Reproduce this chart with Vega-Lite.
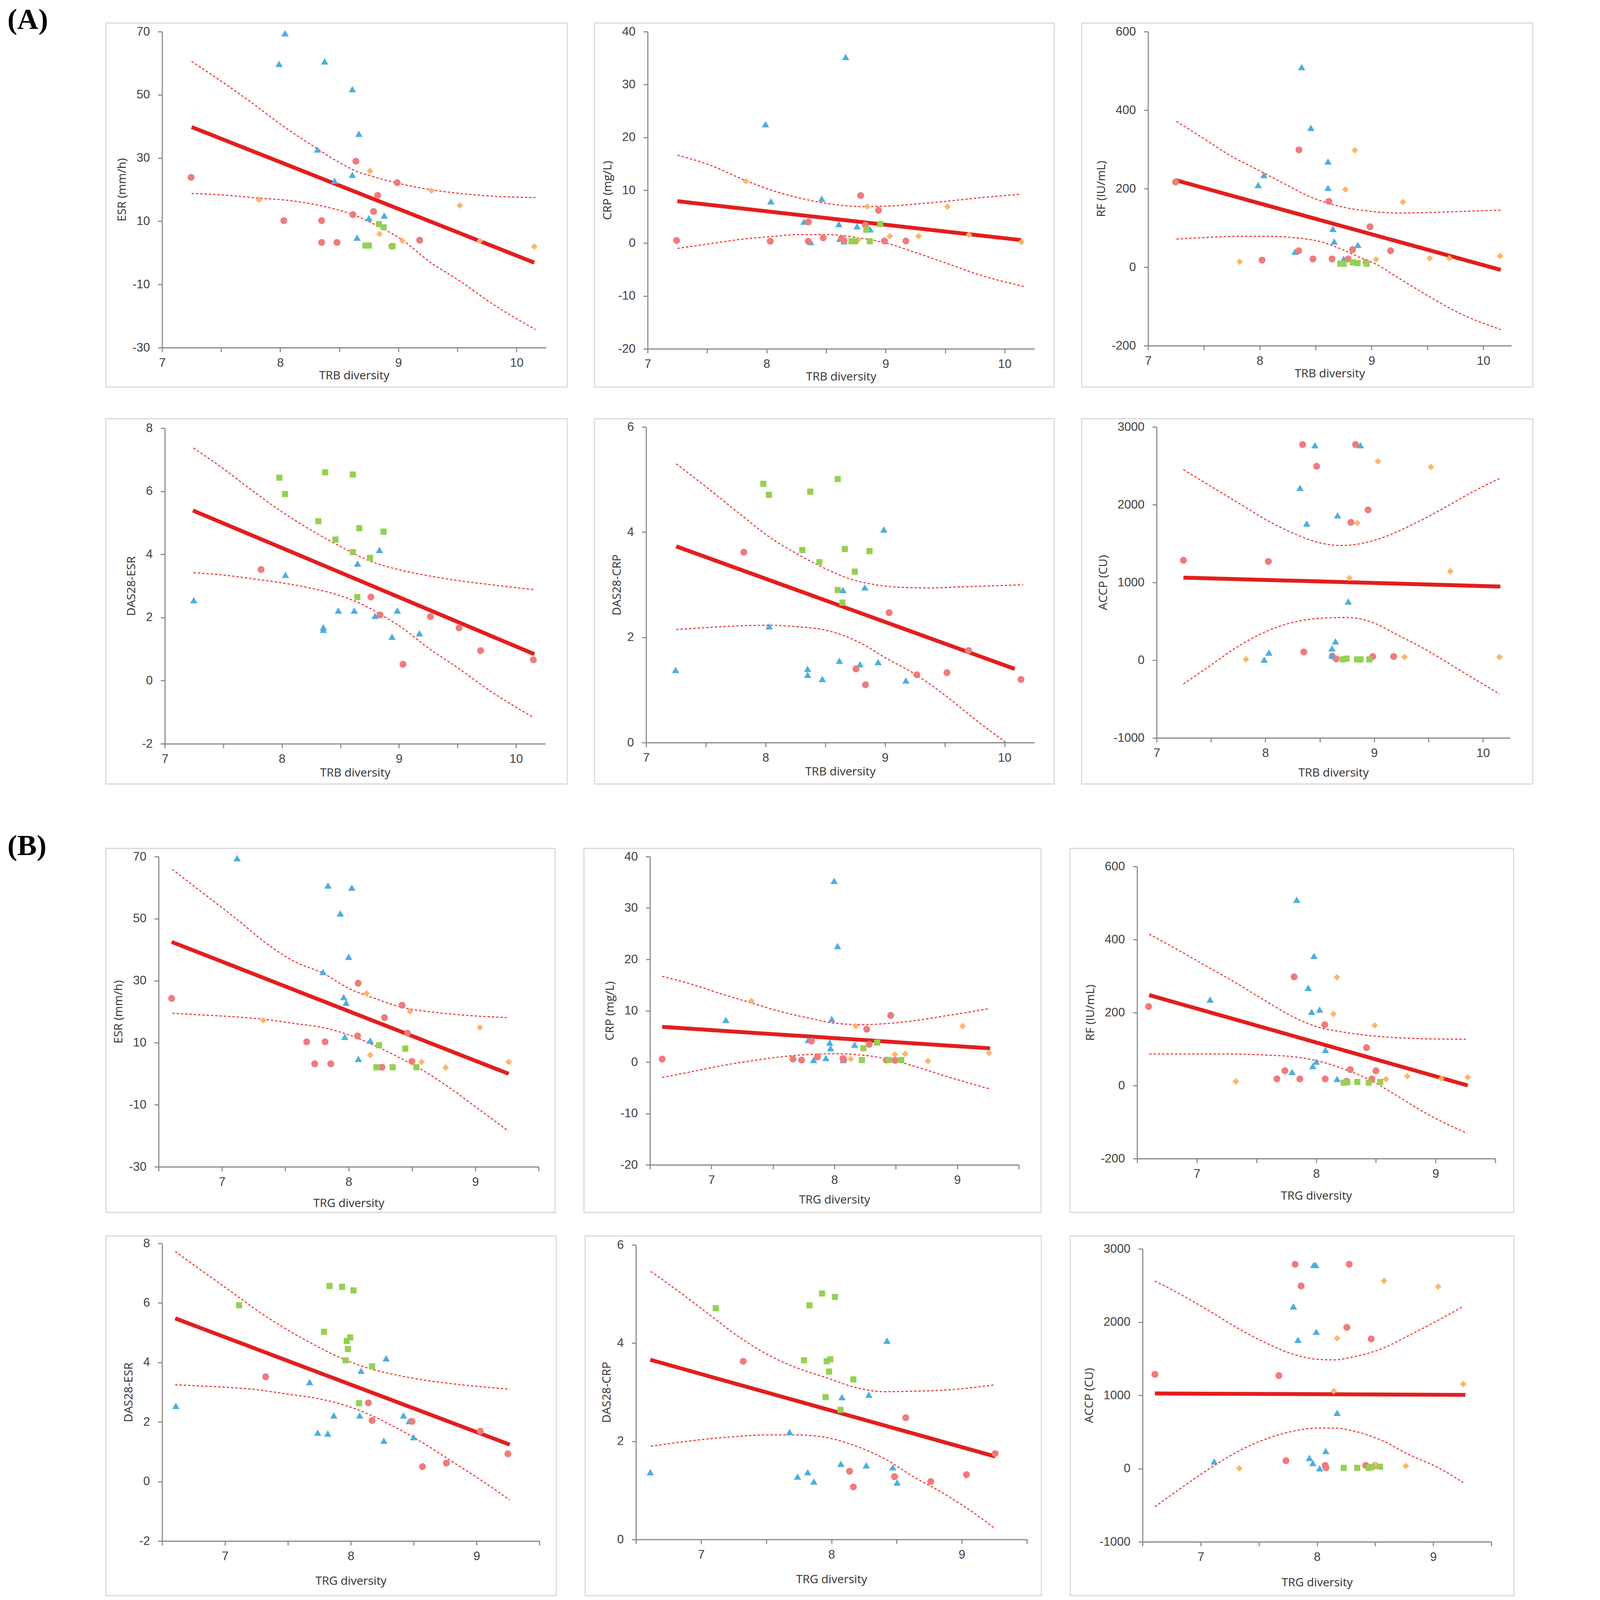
{
"$schema": "https://vega.github.io/schema/vega-lite/v6.json",
"background": "white",
"padding": {"left": 19, "top": 13, "right": 0, "bottom": 0},
"config": {
 "font": "Liberation Sans",
 "view": {"stroke": "#D9D9D9", "strokeWidth": 2.8},
 "axis": {"grid": false, "domainColor": "#898989", "domainWidth": 2.8, "tickColor": "#898989", "tickWidth": 2.8, "tickSize": 11, "labelFont": "Liberation Sans", "labelFontSize": 31, "labelColor": "#404040", "labelPadding": 20.5, "labelOverlap": false, "labelFlush": false, "titleFont": "Open Sans", "titleFontSize": 30, "titleFontWeight": "normal", "titleColor": "#303030", "titlePadding": 11},
 "axisX": {"labelPadding": 13},
 "title": {"font": "Liberation Serif", "fontSize": 75, "fontWeight": "bold", "color": "#000000", "anchor": "start", "frame": "group"}
},
"datasets": {
"pts": [
{"p":"A1","g":"T","x":8.04,"y":69.5},{"p":"A1","g":"T","x":7.99,"y":59.8},{"p":"A1","g":"T","x":8.375,"y":60.6},{"p":"A1","g":"T","x":8.61,"y":51.8},{"p":"A1","g":"T","x":8.665,"y":37.7},{"p":"A1","g":"T","x":8.315,"y":32.7},{"p":"A1","g":"T","x":8.61,"y":24.7},{"p":"A1","g":"T","x":8.46,"y":22.8},{"p":"A1","g":"T","x":8.75,"y":11.0},{"p":"A1","g":"T","x":8.88,"y":11.8},{"p":"A1","g":"T","x":8.65,"y":4.8},
{"p":"A1","g":"C","x":7.245,"y":23.9},{"p":"A1","g":"C","x":8.64,"y":29.0},{"p":"A1","g":"C","x":8.99,"y":22.2},{"p":"A1","g":"C","x":8.825,"y":18.2},{"p":"A1","g":"C","x":8.79,"y":13.1},{"p":"A1","g":"C","x":8.615,"y":12.1},{"p":"A1","g":"C","x":8.03,"y":10.2},{"p":"A1","g":"C","x":8.35,"y":10.2},{"p":"A1","g":"C","x":8.35,"y":3.3},{"p":"A1","g":"C","x":8.48,"y":3.3},{"p":"A1","g":"C","x":9.18,"y":4.0},{"p":"A1","g":"C","x":8.945,"y":2.1},
{"p":"A1","g":"D","x":8.76,"y":25.9},{"p":"A1","g":"D","x":9.28,"y":19.7},{"p":"A1","g":"D","x":7.82,"y":16.8},{"p":"A1","g":"D","x":9.52,"y":15.0},{"p":"A1","g":"D","x":8.84,"y":6.0},{"p":"A1","g":"D","x":9.035,"y":3.8},{"p":"A1","g":"D","x":9.69,"y":3.8},{"p":"A1","g":"D","x":10.15,"y":2.0},
{"p":"A1","g":"S","x":8.835,"y":9.1},{"p":"A1","g":"S","x":8.875,"y":8.1},{"p":"A1","g":"S","x":8.72,"y":2.3},{"p":"A1","g":"S","x":8.75,"y":2.3},{"p":"A1","g":"S","x":8.95,"y":2.1},

{"p":"A2","g":"T","x":8.664,"y":35.2},{"p":"A2","g":"T","x":7.99,"y":22.5},{"p":"A2","g":"T","x":8.036,"y":7.9},{"p":"A2","g":"T","x":8.463,"y":8.4},{"p":"A2","g":"T","x":8.314,"y":4.05},{"p":"A2","g":"T","x":8.607,"y":3.6},{"p":"A2","g":"T","x":8.76,"y":3.2},{"p":"A2","g":"T","x":8.87,"y":2.6},{"p":"A2","g":"T","x":8.37,"y":0.2},{"p":"A2","g":"T","x":8.614,"y":0.8},{"p":"A2","g":"T","x":8.65,"y":0.35},
{"p":"A2","g":"C","x":7.243,"y":0.5},{"p":"A2","g":"C","x":8.03,"y":0.35},{"p":"A2","g":"C","x":8.35,"y":0.35},{"p":"A2","g":"C","x":8.35,"y":4.0},{"p":"A2","g":"C","x":8.475,"y":1.0},{"p":"A2","g":"C","x":8.79,"y":9.0},{"p":"A2","g":"C","x":8.94,"y":6.2},{"p":"A2","g":"C","x":8.83,"y":3.4},{"p":"A2","g":"C","x":8.63,"y":0.9},{"p":"A2","g":"C","x":8.65,"y":0.5},{"p":"A2","g":"C","x":8.99,"y":0.4},{"p":"A2","g":"C","x":9.17,"y":0.4},
{"p":"A2","g":"D","x":7.826,"y":11.7},{"p":"A2","g":"D","x":8.845,"y":6.9},{"p":"A2","g":"D","x":9.52,"y":6.9},{"p":"A2","g":"D","x":9.035,"y":1.3},{"p":"A2","g":"D","x":9.276,"y":1.3},{"p":"A2","g":"D","x":9.7,"y":1.55},{"p":"A2","g":"D","x":10.14,"y":0.2},{"p":"A2","g":"D","x":8.77,"y":0.65},
{"p":"A2","g":"S","x":8.954,"y":3.6},{"p":"A2","g":"S","x":8.837,"y":2.55},{"p":"A2","g":"S","x":8.713,"y":0.35},{"p":"A2","g":"S","x":8.745,"y":0.35},{"p":"A2","g":"S","x":8.867,"y":0.35},

{"p":"A3","g":"T","x":8.374,"y":509.7},{"p":"A3","g":"T","x":8.457,"y":354.8},{"p":"A3","g":"T","x":8.61,"y":269.2},{"p":"A3","g":"T","x":8.037,"y":234.8},{"p":"A3","g":"T","x":7.985,"y":209.3},{"p":"A3","g":"T","x":8.61,"y":202.1},{"p":"A3","g":"T","x":8.654,"y":97.6},{"p":"A3","g":"T","x":8.665,"y":65.6},{"p":"A3","g":"T","x":8.877,"y":56.7},{"p":"A3","g":"T","x":8.315,"y":39.4},{"p":"A3","g":"T","x":8.75,"y":21.0},
{"p":"A3","g":"C","x":7.246,"y":217},{"p":"A3","g":"C","x":8.35,"y":299},{"p":"A3","g":"C","x":8.618,"y":167.7},{"p":"A3","g":"C","x":8.986,"y":103},{"p":"A3","g":"C","x":8.83,"y":44.8},{"p":"A3","g":"C","x":8.348,"y":41.8},{"p":"A3","g":"C","x":9.17,"y":41.8},{"p":"A3","g":"C","x":8.02,"y":18.1},{"p":"A3","g":"C","x":8.475,"y":21.0},{"p":"A3","g":"C","x":8.646,"y":21.0},{"p":"A3","g":"C","x":8.79,"y":21.0},{"p":"A3","g":"C","x":8.95,"y":12.1},
{"p":"A3","g":"D","x":8.85,"y":297.7},{"p":"A3","g":"D","x":8.766,"y":198},{"p":"A3","g":"D","x":9.28,"y":166},{"p":"A3","g":"D","x":7.82,"y":13.9},{"p":"A3","g":"D","x":9.04,"y":19.8},{"p":"A3","g":"D","x":9.52,"y":22.8},{"p":"A3","g":"D","x":9.696,"y":22.8},{"p":"A3","g":"D","x":10.15,"y":28.7},
{"p":"A3","g":"S","x":8.72,"y":9},{"p":"A3","g":"S","x":8.75,"y":9},{"p":"A3","g":"S","x":8.833,"y":12.1},{"p":"A3","g":"S","x":8.875,"y":10.3},{"p":"A3","g":"S","x":8.955,"y":9},

{"p":"A4","g":"S","x":7.978,"y":6.43},{"p":"A4","g":"S","x":8.369,"y":6.6},{"p":"A4","g":"S","x":8.606,"y":6.53},{"p":"A4","g":"S","x":8.026,"y":5.91},{"p":"A4","g":"S","x":8.311,"y":5.05},{"p":"A4","g":"S","x":8.661,"y":4.83},{"p":"A4","g":"S","x":8.868,"y":4.72},{"p":"A4","g":"S","x":8.457,"y":4.47},{"p":"A4","g":"S","x":8.606,"y":4.07},{"p":"A4","g":"S","x":8.752,"y":3.89},{"p":"A4","g":"S","x":8.644,"y":2.65},
{"p":"A4","g":"T","x":8.833,"y":4.14},{"p":"A4","g":"T","x":8.646,"y":3.71},{"p":"A4","g":"T","x":8.03,"y":3.35},{"p":"A4","g":"T","x":7.247,"y":2.55},{"p":"A4","g":"T","x":8.482,"y":2.22},{"p":"A4","g":"T","x":8.618,"y":2.22},{"p":"A4","g":"T","x":8.986,"y":2.22},{"p":"A4","g":"T","x":8.795,"y":2.05},{"p":"A4","g":"T","x":8.354,"y":1.69},{"p":"A4","g":"T","x":8.354,"y":1.61},{"p":"A4","g":"T","x":8.941,"y":1.39},{"p":"A4","g":"T","x":9.175,"y":1.5},
{"p":"A4","g":"C","x":7.822,"y":3.52},{"p":"A4","g":"C","x":8.76,"y":2.65},{"p":"A4","g":"C","x":8.838,"y":2.08},{"p":"A4","g":"C","x":9.269,"y":2.03},{"p":"A4","g":"C","x":9.513,"y":1.67},{"p":"A4","g":"C","x":9.697,"y":0.95},{"p":"A4","g":"C","x":9.034,"y":0.52},{"p":"A4","g":"C","x":10.148,"y":0.66},

{"p":"A5","g":"S","x":7.981,"y":4.92},{"p":"A5","g":"S","x":8.028,"y":4.71},{"p":"A5","g":"S","x":8.374,"y":4.77},{"p":"A5","g":"S","x":8.604,"y":5.01},{"p":"A5","g":"S","x":8.307,"y":3.66},{"p":"A5","g":"S","x":8.663,"y":3.68},{"p":"A5","g":"S","x":8.87,"y":3.64},{"p":"A5","g":"S","x":8.45,"y":3.43},{"p":"A5","g":"S","x":8.747,"y":3.25},{"p":"A5","g":"S","x":8.604,"y":2.9},{"p":"A5","g":"S","x":8.643,"y":2.66},
{"p":"A5","g":"T","x":8.99,"y":4.05},{"p":"A5","g":"T","x":8.648,"y":2.9},{"p":"A5","g":"T","x":8.831,"y":2.95},{"p":"A5","g":"T","x":8.03,"y":2.21},{"p":"A5","g":"T","x":7.247,"y":1.38},{"p":"A5","g":"T","x":8.352,"y":1.4},{"p":"A5","g":"T","x":8.352,"y":1.29},{"p":"A5","g":"T","x":8.475,"y":1.21},{"p":"A5","g":"T","x":8.618,"y":1.555},{"p":"A5","g":"T","x":8.79,"y":1.49},{"p":"A5","g":"T","x":8.942,"y":1.53},{"p":"A5","g":"T","x":9.175,"y":1.18},
{"p":"A5","g":"C","x":7.818,"y":3.62},{"p":"A5","g":"C","x":9.034,"y":2.47},{"p":"A5","g":"C","x":9.698,"y":1.75},{"p":"A5","g":"C","x":8.757,"y":1.4},{"p":"A5","g":"C","x":8.836,"y":1.1},{"p":"A5","g":"C","x":9.266,"y":1.29},{"p":"A5","g":"C","x":9.518,"y":1.33},{"p":"A5","g":"C","x":10.138,"y":1.2},

{"p":"A6","g":"C","x":8.342,"y":2774},{"p":"A6","g":"C","x":8.829,"y":2774},{"p":"A6","g":"C","x":8.471,"y":2494},{"p":"A6","g":"C","x":8.944,"y":1933},{"p":"A6","g":"C","x":8.786,"y":1773},{"p":"A6","g":"C","x":7.246,"y":1285},{"p":"A6","g":"C","x":8.027,"y":1270},{"p":"A6","g":"C","x":8.353,"y":106},{"p":"A6","g":"C","x":8.987,"y":46},{"p":"A6","g":"C","x":9.179,"y":46},{"p":"A6","g":"C","x":8.615,"y":52},{"p":"A6","g":"C","x":8.65,"y":16},
{"p":"A6","g":"T","x":8.455,"y":2765},{"p":"A6","g":"T","x":8.874,"y":2765},{"p":"A6","g":"T","x":8.318,"y":2216},{"p":"A6","g":"T","x":8.663,"y":1864},{"p":"A6","g":"T","x":8.38,"y":1758},{"p":"A6","g":"T","x":8.762,"y":754},{"p":"A6","g":"T","x":8.644,"y":242},{"p":"A6","g":"T","x":8.612,"y":151},{"p":"A6","g":"T","x":8.032,"y":97},{"p":"A6","g":"T","x":7.989,"y":7},{"p":"A6","g":"T","x":8.612,"y":61},
{"p":"A6","g":"D","x":9.035,"y":2557},{"p":"A6","g":"D","x":9.521,"y":2485},{"p":"A6","g":"D","x":8.845,"y":1764},{"p":"A6","g":"D","x":9.7,"y":1143},{"p":"A6","g":"D","x":8.773,"y":1056},{"p":"A6","g":"D","x":7.821,"y":10},{"p":"A6","g":"D","x":9.278,"y":40},{"p":"A6","g":"D","x":10.152,"y":40},
{"p":"A6","g":"S","x":8.711,"y":10},{"p":"A6","g":"S","x":8.746,"y":20},{"p":"A6","g":"S","x":8.842,"y":10},{"p":"A6","g":"S","x":8.874,"y":10},{"p":"A6","g":"S","x":8.955,"y":10},

{"p":"B1","g":"T","x":7.12,"y":69.5},{"p":"B1","g":"T","x":7.837,"y":60.7},{"p":"B1","g":"T","x":8.025,"y":60},{"p":"B1","g":"T","x":7.934,"y":51.7},{"p":"B1","g":"T","x":8.0,"y":37.7},{"p":"B1","g":"T","x":7.798,"y":32.8},{"p":"B1","g":"T","x":7.961,"y":24.75},{"p":"B1","g":"T","x":7.98,"y":22.9},{"p":"B1","g":"T","x":7.97,"y":11.9},{"p":"B1","g":"T","x":8.17,"y":10.7},{"p":"B1","g":"T","x":8.077,"y":4.8},
{"p":"B1","g":"C","x":6.603,"y":24.3},{"p":"B1","g":"C","x":8.075,"y":29.2},{"p":"B1","g":"C","x":8.422,"y":22.1},{"p":"B1","g":"C","x":8.283,"y":18.1},{"p":"B1","g":"C","x":8.465,"y":13.1},{"p":"B1","g":"C","x":8.07,"y":12.2},{"p":"B1","g":"C","x":7.669,"y":10.3},{"p":"B1","g":"C","x":7.814,"y":10.3},{"p":"B1","g":"C","x":7.732,"y":3.2},{"p":"B1","g":"C","x":7.859,"y":3.2},{"p":"B1","g":"C","x":8.499,"y":4.0},{"p":"B1","g":"C","x":8.263,"y":2.1},
{"p":"B1","g":"D","x":8.141,"y":25.9},{"p":"B1","g":"D","x":8.485,"y":20.1},{"p":"B1","g":"D","x":7.327,"y":17.2},{"p":"B1","g":"D","x":9.036,"y":14.9},{"p":"B1","g":"D","x":8.17,"y":6.05},{"p":"B1","g":"D","x":8.576,"y":3.8},{"p":"B1","g":"D","x":8.766,"y":2.0},{"p":"B1","g":"D","x":9.263,"y":3.8},
{"p":"B1","g":"S","x":8.24,"y":9.2},{"p":"B1","g":"S","x":8.447,"y":8.1},{"p":"B1","g":"S","x":8.22,"y":2.1},{"p":"B1","g":"S","x":8.347,"y":2.1},{"p":"B1","g":"S","x":8.535,"y":2.1},

{"p":"B2","g":"T","x":7.998,"y":35.3},{"p":"B2","g":"T","x":8.026,"y":22.6},{"p":"B2","g":"T","x":7.117,"y":8.2},{"p":"B2","g":"T","x":7.979,"y":8.4},{"p":"B2","g":"T","x":7.788,"y":4.3},{"p":"B2","g":"T","x":7.962,"y":3.8},{"p":"B2","g":"T","x":7.969,"y":2.7},{"p":"B2","g":"T","x":8.165,"y":3.4},{"p":"B2","g":"T","x":7.931,"y":0.8},{"p":"B2","g":"T","x":7.831,"y":0.4},{"p":"B2","g":"T","x":8.072,"y":0.4},
{"p":"B2","g":"C","x":6.599,"y":0.6},{"p":"B2","g":"C","x":7.814,"y":4.1},{"p":"B2","g":"C","x":8.458,"y":9.1},{"p":"B2","g":"C","x":8.263,"y":6.4},{"p":"B2","g":"C","x":8.284,"y":3.45},{"p":"B2","g":"C","x":7.663,"y":0.6},{"p":"B2","g":"C","x":7.733,"y":0.4},{"p":"B2","g":"C","x":7.862,"y":1.0},{"p":"B2","g":"C","x":8.069,"y":0.7},{"p":"B2","g":"C","x":8.422,"y":0.4},{"p":"B2","g":"C","x":8.494,"y":0.35},{"p":"B2","g":"C","x":8.076,"y":0.5},
{"p":"B2","g":"D","x":7.325,"y":11.9},{"p":"B2","g":"D","x":8.174,"y":7.0},{"p":"B2","g":"D","x":9.043,"y":7.0},{"p":"B2","g":"D","x":8.134,"y":0.6},{"p":"B2","g":"D","x":8.492,"y":1.5},{"p":"B2","g":"D","x":8.575,"y":1.6},{"p":"B2","g":"D","x":8.761,"y":0.2},{"p":"B2","g":"D","x":9.258,"y":1.8},
{"p":"B2","g":"S","x":8.348,"y":3.8},{"p":"B2","g":"S","x":8.236,"y":2.7},{"p":"B2","g":"S","x":8.224,"y":0.4},{"p":"B2","g":"S","x":8.444,"y":0.4},{"p":"B2","g":"S","x":8.544,"y":0.4},

{"p":"B3","g":"T","x":7.837,"y":508.6},{"p":"B3","g":"T","x":7.981,"y":355.1},{"p":"B3","g":"T","x":7.933,"y":267.5},{"p":"B3","g":"T","x":7.111,"y":235.5},{"p":"B3","g":"T","x":7.962,"y":201.7},{"p":"B3","g":"T","x":8.029,"y":208},{"p":"B3","g":"T","x":8.077,"y":97.4},{"p":"B3","g":"T","x":8.0,"y":65.5},{"p":"B3","g":"T","x":7.971,"y":53.3},{"p":"B3","g":"T","x":7.798,"y":37.3},{"p":"B3","g":"T","x":8.175,"y":18.2},
{"p":"B3","g":"C","x":6.596,"y":216.4},{"p":"B3","g":"C","x":7.815,"y":297.6},{"p":"B3","g":"C","x":8.072,"y":166.5},{"p":"B3","g":"C","x":8.421,"y":103.8},{"p":"B3","g":"C","x":8.286,"y":43.7},{"p":"B3","g":"C","x":7.738,"y":40.5},{"p":"B3","g":"C","x":8.5,"y":40.5},{"p":"B3","g":"C","x":7.671,"y":18.2},{"p":"B3","g":"C","x":7.863,"y":18.2},{"p":"B3","g":"C","x":8.075,"y":18.2},{"p":"B3","g":"C","x":8.466,"y":18.2},{"p":"B3","g":"C","x":8.255,"y":11.8},
{"p":"B3","g":"D","x":8.173,"y":296.3},{"p":"B3","g":"D","x":8.144,"y":195.9},{"p":"B3","g":"D","x":8.49,"y":164.6},{"p":"B3","g":"D","x":7.327,"y":11.1},{"p":"B3","g":"D","x":8.584,"y":17.5},{"p":"B3","g":"D","x":8.762,"y":25.8},{"p":"B3","g":"D","x":9.048,"y":19.4},{"p":"B3","g":"D","x":9.269,"y":22.6},
{"p":"B3","g":"S","x":8.231,"y":8},{"p":"B3","g":"S","x":8.344,"y":9.8},{"p":"B3","g":"S","x":8.44,"y":8},{"p":"B3","g":"S","x":8.536,"y":9.8},{"p":"B3","g":"S","x":8.26,"y":9},

{"p":"B4","g":"S","x":7.112,"y":5.92},{"p":"B4","g":"S","x":7.831,"y":6.57},{"p":"B4","g":"S","x":7.931,"y":6.54},{"p":"B4","g":"S","x":8.021,"y":6.42},{"p":"B4","g":"S","x":7.787,"y":5.03},{"p":"B4","g":"S","x":7.995,"y":4.84},{"p":"B4","g":"S","x":7.968,"y":4.72},{"p":"B4","g":"S","x":7.977,"y":4.45},{"p":"B4","g":"S","x":7.959,"y":4.07},{"p":"B4","g":"S","x":8.169,"y":3.87},{"p":"B4","g":"S","x":8.066,"y":2.63},
{"p":"B4","g":"T","x":8.281,"y":4.14},{"p":"B4","g":"T","x":8.082,"y":3.72},{"p":"B4","g":"T","x":7.673,"y":3.34},{"p":"B4","g":"T","x":6.609,"y":2.54},{"p":"B4","g":"T","x":7.865,"y":2.22},{"p":"B4","g":"T","x":8.071,"y":2.22},{"p":"B4","g":"T","x":8.419,"y":2.22},{"p":"B4","g":"T","x":8.465,"y":2.03},{"p":"B4","g":"T","x":7.737,"y":1.64},{"p":"B4","g":"T","x":7.817,"y":1.61},{"p":"B4","g":"T","x":8.263,"y":1.37},{"p":"B4","g":"T","x":8.499,"y":1.49},
{"p":"B4","g":"C","x":7.323,"y":3.52},{"p":"B4","g":"C","x":8.14,"y":2.64},{"p":"B4","g":"C","x":8.169,"y":2.05},{"p":"B4","g":"C","x":8.487,"y":2.02},{"p":"B4","g":"C","x":9.03,"y":1.69},{"p":"B4","g":"C","x":9.249,"y":0.93},{"p":"B4","g":"C","x":8.76,"y":0.62},{"p":"B4","g":"C","x":8.57,"y":0.5},

{"p":"B5","g":"S","x":7.112,"y":4.71},{"p":"B5","g":"S","x":7.832,"y":4.77},{"p":"B5","g":"S","x":7.928,"y":5.01},{"p":"B5","g":"S","x":8.027,"y":4.94},{"p":"B5","g":"S","x":7.789,"y":3.65},{"p":"B5","g":"S","x":7.964,"y":3.63},{"p":"B5","g":"S","x":7.991,"y":3.67},{"p":"B5","g":"S","x":7.982,"y":3.42},{"p":"B5","g":"S","x":8.168,"y":3.26},{"p":"B5","g":"S","x":7.955,"y":2.9},{"p":"B5","g":"S","x":8.07,"y":2.64},
{"p":"B5","g":"T","x":8.426,"y":4.05},{"p":"B5","g":"T","x":8.081,"y":2.9},{"p":"B5","g":"T","x":8.287,"y":2.95},{"p":"B5","g":"T","x":7.679,"y":2.19},{"p":"B5","g":"T","x":6.61,"y":1.37},{"p":"B5","g":"T","x":7.818,"y":1.37},{"p":"B5","g":"T","x":7.74,"y":1.28},{"p":"B5","g":"T","x":7.865,"y":1.18},{"p":"B5","g":"T","x":8.072,"y":1.54},{"p":"B5","g":"T","x":8.267,"y":1.51},{"p":"B5","g":"T","x":8.471,"y":1.47},{"p":"B5","g":"T","x":8.504,"y":1.16},
{"p":"B5","g":"C","x":7.323,"y":3.63},{"p":"B5","g":"C","x":8.57,"y":2.48},{"p":"B5","g":"C","x":9.256,"y":1.75},{"p":"B5","g":"C","x":8.139,"y":1.39},{"p":"B5","g":"C","x":8.168,"y":1.07},{"p":"B5","g":"C","x":8.484,"y":1.28},{"p":"B5","g":"C","x":8.762,"y":1.18},{"p":"B5","g":"C","x":9.036,"y":1.32},

{"p":"B6","g":"C","x":7.812,"y":2789},{"p":"B6","g":"C","x":8.277,"y":2789},{"p":"B6","g":"C","x":7.863,"y":2494},{"p":"B6","g":"C","x":8.257,"y":1928},{"p":"B6","g":"C","x":8.466,"y":1770},{"p":"B6","g":"C","x":6.606,"y":1286},{"p":"B6","g":"C","x":7.672,"y":1270},{"p":"B6","g":"C","x":7.733,"y":107},{"p":"B6","g":"C","x":8.419,"y":44},{"p":"B6","g":"C","x":8.5,"y":44},{"p":"B6","g":"C","x":8.07,"y":44},{"p":"B6","g":"C","x":8.077,"y":13},
{"p":"B6","g":"T","x":7.972,"y":2780},{"p":"B6","g":"T","x":7.989,"y":2780},{"p":"B6","g":"T","x":7.797,"y":2214},{"p":"B6","g":"T","x":7.994,"y":1868},{"p":"B6","g":"T","x":7.836,"y":1758},{"p":"B6","g":"T","x":8.173,"y":761},{"p":"B6","g":"T","x":8.075,"y":239},{"p":"B6","g":"T","x":7.935,"y":145},{"p":"B6","g":"T","x":7.964,"y":75},{"p":"B6","g":"T","x":7.116,"y":97},{"p":"B6","g":"T","x":8.023,"y":3},
{"p":"B6","g":"D","x":8.577,"y":2563},{"p":"B6","g":"D","x":9.042,"y":2484},{"p":"B6","g":"D","x":8.173,"y":1780},{"p":"B6","g":"D","x":9.258,"y":1154},{"p":"B6","g":"D","x":8.144,"y":1057},{"p":"B6","g":"D","x":7.332,"y":3},{"p":"B6","g":"D","x":8.5,"y":53},{"p":"B6","g":"D","x":8.764,"y":35},
{"p":"B6","g":"S","x":8.23,"y":10},{"p":"B6","g":"S","x":8.346,"y":10},{"p":"B6","g":"S","x":8.444,"y":10},{"p":"B6","g":"S","x":8.469,"y":20},{"p":"B6","g":"S","x":8.542,"y":25}
],
"lines": [
{"p":"A1","s":"fit","x":7.25,"y":39.8},{"p":"A1","s":"fit","x":10.15,"y":-3.1},
{"p":"A1","s":"hi","x":7.25,"y":60.6},{"p":"A1","s":"hi","x":7.52,"y":53.8},{"p":"A1","s":"hi","x":7.77,"y":47.2},{"p":"A1","s":"hi","x":8.02,"y":40.2},{"p":"A1","s":"hi","x":8.27,"y":34.0},{"p":"A1","s":"hi","x":8.495,"y":28.7},{"p":"A1","s":"hi","x":8.645,"y":25.8},{"p":"A1","s":"hi","x":8.77,"y":24.3},{"p":"A1","s":"hi","x":8.99,"y":22.1},{"p":"A1","s":"hi","x":9.27,"y":20.0},{"p":"A1","s":"hi","x":9.52,"y":18.8},{"p":"A1","s":"hi","x":9.77,"y":18.0},{"p":"A1","s":"hi","x":10.16,"y":17.5},
{"p":"A1","s":"lo","x":7.25,"y":18.8},{"p":"A1","s":"lo","x":7.52,"y":18.3},{"p":"A1","s":"lo","x":7.82,"y":17.3},{"p":"A1","s":"lo","x":8.07,"y":16.6},{"p":"A1","s":"lo","x":8.37,"y":14.7},{"p":"A1","s":"lo","x":8.615,"y":12.1},{"p":"A1","s":"lo","x":8.845,"y":8.1},{"p":"A1","s":"lo","x":9.02,"y":4.4},{"p":"A1","s":"lo","x":9.27,"y":-3.0},{"p":"A1","s":"lo","x":9.52,"y":-8.9},{"p":"A1","s":"lo","x":9.77,"y":-15.5},{"p":"A1","s":"lo","x":10.16,"y":-24.3},

{"p":"A2","s":"fit","x":7.25,"y":7.93},{"p":"A2","s":"fit","x":10.14,"y":0.57},
{"p":"A2","s":"hi","x":7.25,"y":16.65},{"p":"A2","s":"hi","x":7.53,"y":14.7},{"p":"A2","s":"hi","x":7.826,"y":11.8},{"p":"A2","s":"hi","x":8.07,"y":9.8},{"p":"A2","s":"hi","x":8.32,"y":8.3},{"p":"A2","s":"hi","x":8.57,"y":7.3},{"p":"A2","s":"hi","x":8.82,"y":6.9},{"p":"A2","s":"hi","x":9.02,"y":7.0},{"p":"A2","s":"hi","x":9.26,"y":7.4},{"p":"A2","s":"hi","x":9.51,"y":7.9},{"p":"A2","s":"hi","x":9.76,"y":8.5},{"p":"A2","s":"hi","x":10.14,"y":9.25},
{"p":"A2","s":"lo","x":7.25,"y":-1.0},{"p":"A2","s":"lo","x":7.53,"y":-0.1},{"p":"A2","s":"lo","x":7.78,"y":0.7},{"p":"A2","s":"lo","x":8.02,"y":1.2},{"p":"A2","s":"lo","x":8.27,"y":1.6},{"p":"A2","s":"lo","x":8.52,"y":1.6},{"p":"A2","s":"lo","x":8.77,"y":1.0},{"p":"A2","s":"lo","x":9.02,"y":-0.1},{"p":"A2","s":"lo","x":9.26,"y":-1.85},{"p":"A2","s":"lo","x":9.51,"y":-3.8},{"p":"A2","s":"lo","x":9.76,"y":-5.8},{"p":"A2","s":"lo","x":10.16,"y":-8.2},

{"p":"A3","s":"fit","x":7.246,"y":221.7},{"p":"A3","s":"fit","x":10.155,"y":-6.9},
{"p":"A3","s":"hi","x":7.254,"y":371.4},{"p":"A3","s":"hi","x":7.47,"y":332.8},{"p":"A3","s":"hi","x":7.73,"y":285.3},{"p":"A3","s":"hi","x":7.99,"y":246.7},{"p":"A3","s":"hi","x":8.25,"y":208},{"p":"A3","s":"hi","x":8.457,"y":178.4},{"p":"A3","s":"hi","x":8.64,"y":160.6},{"p":"A3","s":"hi","x":8.82,"y":148.7},{"p":"A3","s":"hi","x":8.976,"y":142.8},{"p":"A3","s":"hi","x":9.235,"y":138},{"p":"A3","s":"hi","x":9.494,"y":139.2},{"p":"A3","s":"hi","x":9.753,"y":141.6},{"p":"A3","s":"hi","x":10.155,"y":145.1},
{"p":"A3","s":"lo","x":7.254,"y":71.5},{"p":"A3","s":"lo","x":7.55,"y":76.2},{"p":"A3","s":"lo","x":7.81,"y":78.6},{"p":"A3","s":"lo","x":8.07,"y":78.6},{"p":"A3","s":"lo","x":8.33,"y":74.5},{"p":"A3","s":"lo","x":8.535,"y":65.6},{"p":"A3","s":"lo","x":8.716,"y":47.7},{"p":"A3","s":"lo","x":8.9,"y":24},{"p":"A3","s":"lo","x":9.05,"y":6.2},{"p":"A3","s":"lo","x":9.235,"y":-26.5},{"p":"A3","s":"lo","x":9.494,"y":-71},{"p":"A3","s":"lo","x":9.753,"y":-112.6},{"p":"A3","s":"lo","x":10.155,"y":-158.9},

{"p":"A4","s":"fit","x":7.24,"y":5.39},{"p":"A4","s":"fit","x":10.156,"y":0.84},
{"p":"A4","s":"hi","x":7.245,"y":7.37},{"p":"A4","s":"hi","x":7.49,"y":6.74},{"p":"A4","s":"hi","x":7.744,"y":6.03},{"p":"A4","s":"hi","x":7.996,"y":5.36},{"p":"A4","s":"hi","x":8.248,"y":4.77},{"p":"A4","s":"hi","x":8.5,"y":4.25},{"p":"A4","s":"hi","x":8.752,"y":3.79},{"p":"A4","s":"hi","x":9.004,"y":3.51},{"p":"A4","s":"hi","x":9.256,"y":3.32},{"p":"A4","s":"hi","x":9.508,"y":3.17},{"p":"A4","s":"hi","x":9.76,"y":3.05},{"p":"A4","s":"hi","x":10.16,"y":2.88},
{"p":"A4","s":"lo","x":7.245,"y":3.42},{"p":"A4","s":"lo","x":7.49,"y":3.35},{"p":"A4","s":"lo","x":7.744,"y":3.23},{"p":"A4","s":"lo","x":7.996,"y":3.1},{"p":"A4","s":"lo","x":8.248,"y":2.93},{"p":"A4","s":"lo","x":8.5,"y":2.69},{"p":"A4","s":"lo","x":8.7,"y":2.39},{"p":"A4","s":"lo","x":8.878,"y":2.02},{"p":"A4","s":"lo","x":9.004,"y":1.73},{"p":"A4","s":"lo","x":9.256,"y":1.02},{"p":"A4","s":"lo","x":9.508,"y":0.39},{"p":"A4","s":"lo","x":9.76,"y":-0.28},{"p":"A4","s":"lo","x":10.15,"y":-1.17},

{"p":"A5","s":"fit","x":7.252,"y":3.73},{"p":"A5","s":"fit","x":10.086,"y":1.4},
{"p":"A5","s":"hi","x":7.252,"y":5.3},{"p":"A5","s":"hi","x":7.536,"y":4.8},{"p":"A5","s":"hi","x":7.783,"y":4.35},{"p":"A5","s":"hi","x":8.03,"y":3.91},{"p":"A5","s":"hi","x":8.277,"y":3.57},{"p":"A5","s":"hi","x":8.525,"y":3.28},{"p":"A5","s":"hi","x":8.722,"y":3.1},{"p":"A5","s":"hi","x":8.895,"y":3.01},{"p":"A5","s":"hi","x":9.142,"y":2.95},{"p":"A5","s":"hi","x":9.39,"y":2.94},{"p":"A5","s":"hi","x":9.637,"y":2.96},{"p":"A5","s":"hi","x":10.155,"y":3.0},
{"p":"A5","s":"lo","x":7.252,"y":2.15},{"p":"A5","s":"lo","x":7.536,"y":2.19},{"p":"A5","s":"lo","x":7.783,"y":2.22},{"p":"A5","s":"lo","x":8.03,"y":2.23},{"p":"A5","s":"lo","x":8.277,"y":2.2},{"p":"A5","s":"lo","x":8.475,"y":2.15},{"p":"A5","s":"lo","x":8.648,"y":2.04},{"p":"A5","s":"lo","x":8.821,"y":1.86},{"p":"A5","s":"lo","x":9.019,"y":1.59},{"p":"A5","s":"lo","x":9.216,"y":1.35},{"p":"A5","s":"lo","x":9.513,"y":0.88},{"p":"A5","s":"lo","x":9.76,"y":0.43},{"p":"A5","s":"lo","x":10.007,"y":0.01},

{"p":"A6","s":"fit","x":7.246,"y":1062},{"p":"A6","s":"fit","x":10.16,"y":947},
{"p":"A6","s":"hi","x":7.246,"y":2451},{"p":"A6","s":"hi","x":7.487,"y":2246},{"p":"A6","s":"hi","x":7.754,"y":2020},{"p":"A6","s":"hi","x":8.021,"y":1794},{"p":"A6","s":"hi","x":8.289,"y":1613},{"p":"A6","s":"hi","x":8.503,"y":1508},{"p":"A6","s":"hi","x":8.69,"y":1475},{"p":"A6","s":"hi","x":8.85,"y":1493},{"p":"A6","s":"hi","x":9.091,"y":1583},{"p":"A6","s":"hi","x":9.358,"y":1749},{"p":"A6","s":"hi","x":9.626,"y":1945},{"p":"A6","s":"hi","x":9.893,"y":2156},{"p":"A6","s":"hi","x":10.152,"y":2337},
{"p":"A6","s":"lo","x":7.246,"y":-307},{"p":"A6","s":"lo","x":7.487,"y":-75},{"p":"A6","s":"lo","x":7.754,"y":182},{"p":"A6","s":"lo","x":8.021,"y":378},{"p":"A6","s":"lo","x":8.289,"y":498},{"p":"A6","s":"lo","x":8.556,"y":543},{"p":"A6","s":"lo","x":8.743,"y":549},{"p":"A6","s":"lo","x":8.957,"y":498},{"p":"A6","s":"lo","x":9.225,"y":317},{"p":"A6","s":"lo","x":9.492,"y":121},{"p":"A6","s":"lo","x":9.759,"y":-105},{"p":"A6","s":"lo","x":10.152,"y":-436},

{"p":"B1","s":"fit","x":6.603,"y":42.5},{"p":"B1","s":"fit","x":9.263,"y":0.0},
{"p":"B1","s":"hi","x":6.608,"y":65.9},{"p":"B1","s":"hi","x":6.868,"y":57.7},{"p":"B1","s":"hi","x":7.118,"y":49.8},{"p":"B1","s":"hi","x":7.345,"y":42.2},{"p":"B1","s":"hi","x":7.571,"y":36.2},{"p":"B1","s":"hi","x":7.798,"y":32.4},{"p":"B1","s":"hi","x":8.002,"y":27.5},{"p":"B1","s":"hi","x":8.206,"y":24.3},{"p":"B1","s":"hi","x":8.433,"y":21.3},{"p":"B1","s":"hi","x":8.683,"y":19.8},{"p":"B1","s":"hi","x":8.909,"y":18.9},{"p":"B1","s":"hi","x":9.249,"y":18.1},
{"p":"B1","s":"lo","x":6.608,"y":19.5},{"p":"B1","s":"lo","x":6.868,"y":18.9},{"p":"B1","s":"lo","x":7.118,"y":18.3},{"p":"B1","s":"lo","x":7.345,"y":17.5},{"p":"B1","s":"lo","x":7.571,"y":16.2},{"p":"B1","s":"lo","x":7.798,"y":14.9},{"p":"B1","s":"lo","x":8.002,"y":12.5},{"p":"B1","s":"lo","x":8.206,"y":9.1},{"p":"B1","s":"lo","x":8.433,"y":4.5},{"p":"B1","s":"lo","x":8.569,"y":1.5},{"p":"B1","s":"lo","x":8.796,"y":-4.5},{"p":"B1","s":"lo","x":9.023,"y":-11.3},{"p":"B1","s":"lo","x":9.261,"y":-18.5},

{"p":"B2","s":"fit","x":6.599,"y":6.86},{"p":"B2","s":"fit","x":9.267,"y":2.68},
{"p":"B2","s":"hi","x":6.599,"y":16.7},{"p":"B2","s":"hi","x":6.852,"y":15.06},{"p":"B2","s":"hi","x":7.091,"y":13.2},{"p":"B2","s":"hi","x":7.329,"y":11.5},{"p":"B2","s":"hi","x":7.568,"y":9.8},{"p":"B2","s":"hi","x":7.807,"y":8.5},{"p":"B2","s":"hi","x":7.998,"y":7.6},{"p":"B2","s":"hi","x":8.212,"y":7.3},{"p":"B2","s":"hi","x":8.451,"y":7.55},{"p":"B2","s":"hi","x":8.69,"y":8.2},{"p":"B2","s":"hi","x":8.928,"y":9.1},{"p":"B2","s":"hi","x":9.262,"y":10.4},
{"p":"B2","s":"lo","x":6.599,"y":-3.0},{"p":"B2","s":"lo","x":6.852,"y":-1.8},{"p":"B2","s":"lo","x":7.091,"y":-0.65},{"p":"B2","s":"lo","x":7.329,"y":0.26},{"p":"B2","s":"lo","x":7.568,"y":1.04},{"p":"B2","s":"lo","x":7.807,"y":1.5},{"p":"B2","s":"lo","x":7.998,"y":1.63},{"p":"B2","s":"lo","x":8.212,"y":1.4},{"p":"B2","s":"lo","x":8.451,"y":0.5},{"p":"B2","s":"lo","x":8.69,"y":-1.1},{"p":"B2","s":"lo","x":8.928,"y":-2.9},{"p":"B2","s":"lo","x":9.262,"y":-5.2},

{"p":"B3","s":"fit","x":6.601,"y":247.7},{"p":"B3","s":"fit","x":9.269,"y":0.2},
{"p":"B3","s":"hi","x":6.601,"y":414.6},{"p":"B3","s":"hi","x":6.861,"y":367.9},{"p":"B3","s":"hi","x":7.101,"y":323.1},{"p":"B3","s":"hi","x":7.341,"y":278.4},{"p":"B3","s":"hi","x":7.582,"y":230.4},{"p":"B3","s":"hi","x":7.822,"y":185.7},{"p":"B3","s":"hi","x":8.014,"y":160.1},{"p":"B3","s":"hi","x":8.207,"y":147.3},{"p":"B3","s":"hi","x":8.423,"y":137.7},{"p":"B3","s":"hi","x":8.663,"y":131.3},{"p":"B3","s":"hi","x":8.904,"y":128.1},{"p":"B3","s":"hi","x":9.252,"y":126.9},
{"p":"B3","s":"lo","x":6.601,"y":86.6},{"p":"B3","s":"lo","x":6.861,"y":86.6},{"p":"B3","s":"lo","x":7.101,"y":86.6},{"p":"B3","s":"lo","x":7.341,"y":86},{"p":"B3","s":"lo","x":7.582,"y":83.4},{"p":"B3","s":"lo","x":7.822,"y":78.3},{"p":"B3","s":"lo","x":8.014,"y":67.4},{"p":"B3","s":"lo","x":8.207,"y":48.2},{"p":"B3","s":"lo","x":8.423,"y":19.4},{"p":"B3","s":"lo","x":8.663,"y":-25.3},{"p":"B3","s":"lo","x":8.904,"y":-73.3},{"p":"B3","s":"lo","x":9.264,"y":-130.8},

{"p":"B4","s":"fit","x":6.604,"y":5.48},{"p":"B4","s":"fit","x":9.263,"y":1.24},
{"p":"B4","s":"hi","x":6.604,"y":7.73},{"p":"B4","s":"hi","x":6.803,"y":7.12},{"p":"B4","s":"hi","x":7.032,"y":6.43},{"p":"B4","s":"hi","x":7.261,"y":5.73},{"p":"B4","s":"hi","x":7.49,"y":5.11},{"p":"B4","s":"hi","x":7.719,"y":4.57},{"p":"B4","s":"hi","x":7.947,"y":4.1},{"p":"B4","s":"hi","x":8.153,"y":3.79},{"p":"B4","s":"hi","x":8.336,"y":3.6},{"p":"B4","s":"hi","x":8.565,"y":3.42},{"p":"B4","s":"hi","x":8.794,"y":3.29},{"p":"B4","s":"hi","x":9.023,"y":3.19},{"p":"B4","s":"hi","x":9.263,"y":3.1},
{"p":"B4","s":"lo","x":6.604,"y":3.25},{"p":"B4","s":"lo","x":6.803,"y":3.21},{"p":"B4","s":"lo","x":7.032,"y":3.16},{"p":"B4","s":"lo","x":7.261,"y":3.08},{"p":"B4","s":"lo","x":7.49,"y":2.94},{"p":"B4","s":"lo","x":7.719,"y":2.8},{"p":"B4","s":"lo","x":7.947,"y":2.57},{"p":"B4","s":"lo","x":8.153,"y":2.24},{"p":"B4","s":"lo","x":8.336,"y":1.86},{"p":"B4","s":"lo","x":8.565,"y":1.32},{"p":"B4","s":"lo","x":8.794,"y":0.7},{"p":"B4","s":"lo","x":9.023,"y":0.08},{"p":"B4","s":"lo","x":9.263,"y":-0.62},

{"p":"B5","s":"fit","x":6.61,"y":3.66},{"p":"B5","s":"fit","x":9.256,"y":1.69},
{"p":"B5","s":"hi","x":6.614,"y":5.46},{"p":"B5","s":"hi","x":6.834,"y":5.04},{"p":"B5","s":"hi","x":7.058,"y":4.59},{"p":"B5","s":"hi","x":7.283,"y":4.14},{"p":"B5","s":"hi","x":7.507,"y":3.77},{"p":"B5","s":"hi","x":7.731,"y":3.5},{"p":"B5","s":"hi","x":7.955,"y":3.3},{"p":"B5","s":"hi","x":8.179,"y":3.1},{"p":"B5","s":"hi","x":8.404,"y":3.01},{"p":"B5","s":"hi","x":8.628,"y":3.02},{"p":"B5","s":"hi","x":8.852,"y":3.04},{"p":"B5","s":"hi","x":9.256,"y":3.15},
{"p":"B5","s":"lo","x":6.614,"y":1.9},{"p":"B5","s":"lo","x":6.834,"y":1.98},{"p":"B5","s":"lo","x":7.058,"y":2.05},{"p":"B5","s":"lo","x":7.283,"y":2.1},{"p":"B5","s":"lo","x":7.507,"y":2.13},{"p":"B5","s":"lo","x":7.731,"y":2.13},{"p":"B5","s":"lo","x":7.955,"y":2.08},{"p":"B5","s":"lo","x":8.179,"y":1.91},{"p":"B5","s":"lo","x":8.404,"y":1.65},{"p":"B5","s":"lo","x":8.628,"y":1.28},{"p":"B5","s":"lo","x":8.852,"y":0.95},{"p":"B5","s":"lo","x":9.076,"y":0.57},{"p":"B5","s":"lo","x":9.256,"y":0.22},

{"p":"B6","s":"fit","x":6.606,"y":1025},{"p":"B6","s":"fit","x":9.276,"y":1006},
{"p":"B6","s":"hi","x":6.606,"y":2560},{"p":"B6","s":"hi","x":6.828,"y":2377},{"p":"B6","s":"hi","x":7.074,"y":2151},{"p":"B6","s":"hi","x":7.32,"y":1915},{"p":"B6","s":"hi","x":7.566,"y":1711},{"p":"B6","s":"hi","x":7.812,"y":1553},{"p":"B6","s":"hi","x":8.009,"y":1491},{"p":"B6","s":"hi","x":8.156,"y":1484},{"p":"B6","s":"hi","x":8.304,"y":1522},{"p":"B6","s":"hi","x":8.55,"y":1632},{"p":"B6","s":"hi","x":8.796,"y":1821},{"p":"B6","s":"hi","x":9.042,"y":2025},{"p":"B6","s":"hi","x":9.258,"y":2214},
{"p":"B6","s":"lo","x":6.606,"y":-522},{"p":"B6","s":"lo","x":6.828,"y":-270},{"p":"B6","s":"lo","x":7.074,"y":-3},{"p":"B6","s":"lo","x":7.32,"y":233},{"p":"B6","s":"lo","x":7.566,"y":406},{"p":"B6","s":"lo","x":7.812,"y":516},{"p":"B6","s":"lo","x":8.009,"y":553},{"p":"B6","s":"lo","x":8.156,"y":553},{"p":"B6","s":"lo","x":8.304,"y":516},{"p":"B6","s":"lo","x":8.55,"y":390},{"p":"B6","s":"lo","x":8.796,"y":186},{"p":"B6","s":"lo","x":9.042,"y":13},{"p":"B6","s":"lo","x":9.258,"y":-192}
]
},
"spacing": 119,
"vconcat": [
{"title": {"text": "(A)", "dx": -252, "offset": -32},
 "spacing": 77,
 "vconcat": [
  {"spacing": 66, "hconcat": [
   {"width": 1181, "height": 932,
    "encoding": {"x": {"field": "x", "type": "quantitative", "scale": {"domain": [7, 10.25], "range": [144, 1127], "nice": false, "zero": false}, "axis": {"values": [7,7.5,8,8.5,9,9.5,10], "labelExpr": "datum.value % 1 === 0 ? '' + datum.value : ''", "offset": -101, "title": "TRB diversity", "titlePadding": 2}},
                 "y": {"field": "y", "type": "quantitative", "scale": {"domain": [-30, 70], "range": [831, 22], "nice": false, "zero": false}, "axis": {"values": [-30,-10,10,30,50,70], "labelExpr": "'' + datum.value", "offset": -144, "title": "ESR (mm/h)"}}},
    "layer": [
     {"data": {"name": "lines"}, "transform": [{"filter": "datum.p === 'A1' && datum.s !== 'fit'"}], "mark": {"type": "line", "color": "#EE3535", "strokeWidth": 2.8, "strokeDash": [6, 5], "interpolate": "monotone"}, "encoding": {"detail": {"field": "s"}}},
     {"data": {"name": "lines"}, "transform": [{"filter": "datum.p === 'A1' && datum.s === 'fit'"}], "mark": {"type": "line", "color": "#E31E1E", "strokeWidth": 10}, "encoding": {}},
     {"data": {"name": "pts"}, "transform": [{"filter": "datum.p === 'A1'"}], "mark": {"type": "point", "filled": true, "opacity": 1}, "encoding": {"color": {"field": "g", "type": "nominal", "scale": {"domain": ["T","C","D","S"], "range": ["#4DAEDF","#F07B7B","#FDB56A","#93D152"]}, "legend": null}, "shape": {"field": "g", "type": "nominal", "scale": {"domain": ["T","C","D","S"], "range": ["triangle-up","circle","diamond","square"]}, "legend": null}, "size": {"field": "g", "type": "nominal", "scale": {"domain": ["T","C","D","S"], "range": [350, 245, 270, 225]}, "legend": null}}}
    ]},
   {"width": 1177, "height": 932,
    "encoding": {"x": {"field": "x", "type": "quantitative", "scale": {"domain": [7, 10.25], "range": [136, 1126], "nice": false, "zero": false}, "axis": {"values": [7,7.5,8,8.5,9,9.5,10], "labelExpr": "datum.value % 1 === 0 ? '' + datum.value : ''", "offset": -98, "title": "TRB diversity", "titlePadding": 2}},
                 "y": {"field": "y", "type": "quantitative", "scale": {"domain": [-20, 40], "range": [834, 22], "nice": false, "zero": false}, "axis": {"values": [-20,-10,0,10,20,30,40], "labelExpr": "'' + datum.value", "offset": -136, "title": "CRP (mg/L)"}}},
    "layer": [
     {"data": {"name": "lines"}, "transform": [{"filter": "datum.p === 'A2' && datum.s !== 'fit'"}], "mark": {"type": "line", "color": "#EE3535", "strokeWidth": 2.8, "strokeDash": [6, 5], "interpolate": "monotone"}, "encoding": {"detail": {"field": "s"}}},
     {"data": {"name": "lines"}, "transform": [{"filter": "datum.p === 'A2' && datum.s === 'fit'"}], "mark": {"type": "line", "color": "#E31E1E", "strokeWidth": 10}, "encoding": {}},
     {"data": {"name": "pts"}, "transform": [{"filter": "datum.p === 'A2'"}], "mark": {"type": "point", "filled": true, "opacity": 1}, "encoding": {"color": {"field": "g", "type": "nominal", "scale": {"domain": ["T","C","D","S"], "range": ["#4DAEDF","#F07B7B","#FDB56A","#93D152"]}, "legend": null}, "shape": {"field": "g", "type": "nominal", "scale": {"domain": ["T","C","D","S"], "range": ["triangle-up","circle","diamond","square"]}, "legend": null}, "size": {"field": "g", "type": "nominal", "scale": {"domain": ["T","C","D","S"], "range": [350, 245, 270, 225]}, "legend": null}}}
    ]},
   {"width": 1155, "height": 932,
    "encoding": {"x": {"field": "x", "type": "quantitative", "scale": {"domain": [7, 10.25], "range": [170, 1100], "nice": false, "zero": false}, "axis": {"values": [7,7.5,8,8.5,9,9.5,10], "labelExpr": "datum.value % 1 === 0 ? '' + datum.value : ''", "offset": -106, "title": "TRB diversity", "titlePadding": 2}},
                 "y": {"field": "y", "type": "quantitative", "scale": {"domain": [-200, 600], "range": [826, 22], "nice": false, "zero": false}, "axis": {"values": [-200,0,200,400,600], "labelExpr": "'' + datum.value", "offset": -170, "title": "RF (IU/mL)"}}},
    "layer": [
     {"data": {"name": "lines"}, "transform": [{"filter": "datum.p === 'A3' && datum.s !== 'fit'"}], "mark": {"type": "line", "color": "#EE3535", "strokeWidth": 2.8, "strokeDash": [6, 5], "interpolate": "monotone"}, "encoding": {"detail": {"field": "s"}}},
     {"data": {"name": "lines"}, "transform": [{"filter": "datum.p === 'A3' && datum.s === 'fit'"}], "mark": {"type": "line", "color": "#E31E1E", "strokeWidth": 10}, "encoding": {}},
     {"data": {"name": "pts"}, "transform": [{"filter": "datum.p === 'A3'"}], "mark": {"type": "point", "filled": true, "opacity": 1}, "encoding": {"color": {"field": "g", "type": "nominal", "scale": {"domain": ["T","C","D","S"], "range": ["#4DAEDF","#F07B7B","#FDB56A","#93D152"]}, "legend": null}, "shape": {"field": "g", "type": "nominal", "scale": {"domain": ["T","C","D","S"], "range": ["triangle-up","circle","diamond","square"]}, "legend": null}, "size": {"field": "g", "type": "nominal", "scale": {"domain": ["T","C","D","S"], "range": [350, 245, 270, 225]}, "legend": null}}}
    ]}
  ]},
  {"spacing": 66, "hconcat": [
   {"width": 1181, "height": 935,
    "encoding": {"x": {"field": "x", "type": "quantitative", "scale": {"domain": [7, 10.25], "range": [151, 1125], "nice": false, "zero": false}, "axis": {"values": [7,7.5,8,8.5,9,9.5,10], "labelExpr": "datum.value % 1 === 0 ? '' + datum.value : ''", "offset": -103, "title": "TRB diversity", "titlePadding": 5.5}},
                 "y": {"field": "y", "type": "quantitative", "scale": {"domain": [-2, 8], "range": [832, 24], "nice": false, "zero": false}, "axis": {"values": [-2,0,2,4,6,8], "labelExpr": "'' + datum.value", "offset": -151, "title": "DAS28-ESR"}}},
    "layer": [
     {"data": {"name": "lines"}, "transform": [{"filter": "datum.p === 'A4' && datum.s !== 'fit'"}], "mark": {"type": "line", "color": "#EE3535", "strokeWidth": 2.8, "strokeDash": [6, 5], "interpolate": "monotone"}, "encoding": {"detail": {"field": "s"}}},
     {"data": {"name": "lines"}, "transform": [{"filter": "datum.p === 'A4' && datum.s === 'fit'"}], "mark": {"type": "line", "color": "#E31E1E", "strokeWidth": 10}, "encoding": {}},
     {"data": {"name": "pts"}, "transform": [{"filter": "datum.p === 'A4'"}], "mark": {"type": "point", "filled": true, "opacity": 1}, "encoding": {"color": {"field": "g", "type": "nominal", "scale": {"domain": ["T","C","D","S"], "range": ["#4DAEDF","#F07B7B","#FDB56A","#93D152"]}, "legend": null}, "shape": {"field": "g", "type": "nominal", "scale": {"domain": ["T","C","D","S"], "range": ["triangle-up","circle","diamond","square"]}, "legend": null}, "size": {"field": "g", "type": "nominal", "scale": {"domain": ["T","C","D","S"], "range": [350, 245, 270, 225]}, "legend": null}}}
    ]},
   {"width": 1177, "height": 935,
    "encoding": {"x": {"field": "x", "type": "quantitative", "scale": {"domain": [7, 10.25], "range": [132, 1126], "nice": false, "zero": false}, "axis": {"values": [7,7.5,8,8.5,9,9.5,10], "labelExpr": "datum.value % 1 === 0 ? '' + datum.value : ''", "offset": -106, "title": "TRB diversity", "titlePadding": 5.5}},
                 "y": {"field": "y", "type": "quantitative", "scale": {"domain": [0, 6], "range": [829, 21], "nice": false, "zero": false}, "axis": {"values": [0,2,4,6], "labelExpr": "'' + datum.value", "offset": -132, "title": "DAS28-CRP"}}},
    "layer": [
     {"data": {"name": "lines"}, "transform": [{"filter": "datum.p === 'A5' && datum.s !== 'fit'"}], "mark": {"type": "line", "color": "#EE3535", "strokeWidth": 2.8, "strokeDash": [6, 5], "interpolate": "monotone"}, "encoding": {"detail": {"field": "s"}}},
     {"data": {"name": "lines"}, "transform": [{"filter": "datum.p === 'A5' && datum.s === 'fit'"}], "mark": {"type": "line", "color": "#E31E1E", "strokeWidth": 10}, "encoding": {}},
     {"data": {"name": "pts"}, "transform": [{"filter": "datum.p === 'A5'"}], "mark": {"type": "point", "filled": true, "opacity": 1}, "encoding": {"color": {"field": "g", "type": "nominal", "scale": {"domain": ["T","C","D","S"], "range": ["#4DAEDF","#F07B7B","#FDB56A","#93D152"]}, "legend": null}, "shape": {"field": "g", "type": "nominal", "scale": {"domain": ["T","C","D","S"], "range": ["triangle-up","circle","diamond","square"]}, "legend": null}, "size": {"field": "g", "type": "nominal", "scale": {"domain": ["T","C","D","S"], "range": [350, 245, 270, 225]}, "legend": null}}}
    ]},
   {"width": 1155, "height": 935,
    "encoding": {"x": {"field": "x", "type": "quantitative", "scale": {"domain": [7, 10.25], "range": [192, 1097], "nice": false, "zero": false}, "axis": {"values": [7,7.5,8,8.5,9,9.5,10], "labelExpr": "datum.value % 1 === 0 ? '' + datum.value : ''", "offset": -118, "title": "TRB diversity", "titlePadding": 20.5}},
                 "y": {"field": "y", "type": "quantitative", "scale": {"domain": [-1000, 3000], "range": [817, 21], "nice": false, "zero": false}, "axis": {"values": [-1000,0,1000,2000,3000], "labelExpr": "'' + datum.value", "offset": -192, "title": "ACCP (CU)"}}},
    "layer": [
     {"data": {"name": "lines"}, "transform": [{"filter": "datum.p === 'A6' && datum.s !== 'fit'"}], "mark": {"type": "line", "color": "#EE3535", "strokeWidth": 2.8, "strokeDash": [6, 5], "interpolate": "monotone"}, "encoding": {"detail": {"field": "s"}}},
     {"data": {"name": "lines"}, "transform": [{"filter": "datum.p === 'A6' && datum.s === 'fit'"}], "mark": {"type": "line", "color": "#E31E1E", "strokeWidth": 10}, "encoding": {}},
     {"data": {"name": "pts"}, "transform": [{"filter": "datum.p === 'A6'"}], "mark": {"type": "point", "filled": true, "opacity": 1}, "encoding": {"color": {"field": "g", "type": "nominal", "scale": {"domain": ["T","C","D","S"], "range": ["#4DAEDF","#F07B7B","#FDB56A","#93D152"]}, "legend": null}, "shape": {"field": "g", "type": "nominal", "scale": {"domain": ["T","C","D","S"], "range": ["triangle-up","circle","diamond","square"]}, "legend": null}, "size": {"field": "g", "type": "nominal", "scale": {"domain": ["T","C","D","S"], "range": [350, 245, 270, 225]}, "legend": null}}}
    ]}
  ]}
 ]},
{"title": {"text": "(B)", "dx": -252, "offset": -34},
 "spacing": 56,
 "vconcat": [
  {"spacing": 70, "hconcat": [
   {"width": 1150, "height": 932,
    "encoding": {"x": {"field": "x", "type": "quantitative", "scale": {"domain": [6.5, 9.5], "range": [135, 1108], "nice": false, "zero": false}, "axis": {"values": [6.5,7,7.5,8,8.5,9,9.5], "labelExpr": "datum.value % 1 === 0 ? '' + datum.value : ''", "offset": -117, "title": "TRG diversity", "titlePadding": 24}},
                 "y": {"field": "y", "type": "quantitative", "scale": {"domain": [-30, 70], "range": [815, 21], "nice": false, "zero": false}, "axis": {"values": [-30,-10,10,30,50,70], "labelExpr": "'' + datum.value", "offset": -135, "title": "ESR (mm/h)"}}},
    "layer": [
     {"data": {"name": "lines"}, "transform": [{"filter": "datum.p === 'B1' && datum.s !== 'fit'"}], "mark": {"type": "line", "color": "#EE3535", "strokeWidth": 2.8, "strokeDash": [6, 5], "interpolate": "monotone"}, "encoding": {"detail": {"field": "s"}}},
     {"data": {"name": "lines"}, "transform": [{"filter": "datum.p === 'B1' && datum.s === 'fit'"}], "mark": {"type": "line", "color": "#E31E1E", "strokeWidth": 10}, "encoding": {}},
     {"data": {"name": "pts"}, "transform": [{"filter": "datum.p === 'B1'"}], "mark": {"type": "point", "filled": true, "opacity": 1}, "encoding": {"color": {"field": "g", "type": "nominal", "scale": {"domain": ["T","C","D","S"], "range": ["#4DAEDF","#F07B7B","#FDB56A","#93D152"]}, "legend": null}, "shape": {"field": "g", "type": "nominal", "scale": {"domain": ["T","C","D","S"], "range": ["triangle-up","circle","diamond","square"]}, "legend": null}, "size": {"field": "g", "type": "nominal", "scale": {"domain": ["T","C","D","S"], "range": [350, 245, 270, 225]}, "legend": null}}}
    ]},
   {"width": 1170, "height": 932,
    "encoding": {"x": {"field": "x", "type": "quantitative", "scale": {"domain": [6.5, 9.5], "range": [169, 1113], "nice": false, "zero": false}, "axis": {"values": [6.5,7,7.5,8,8.5,9,9.5], "labelExpr": "datum.value % 1 === 0 ? '' + datum.value : ''", "offset": -122, "title": "TRG diversity", "titlePadding": 20.5}},
                 "y": {"field": "y", "type": "quantitative", "scale": {"domain": [-20, 40], "range": [810, 21], "nice": false, "zero": false}, "axis": {"values": [-20,-10,0,10,20,30,40], "labelExpr": "'' + datum.value", "offset": -169, "title": "CRP (mg/L)"}}},
    "layer": [
     {"data": {"name": "lines"}, "transform": [{"filter": "datum.p === 'B2' && datum.s !== 'fit'"}], "mark": {"type": "line", "color": "#EE3535", "strokeWidth": 2.8, "strokeDash": [6, 5], "interpolate": "monotone"}, "encoding": {"detail": {"field": "s"}}},
     {"data": {"name": "lines"}, "transform": [{"filter": "datum.p === 'B2' && datum.s === 'fit'"}], "mark": {"type": "line", "color": "#E31E1E", "strokeWidth": 10}, "encoding": {}},
     {"data": {"name": "pts"}, "transform": [{"filter": "datum.p === 'B2'"}], "mark": {"type": "point", "filled": true, "opacity": 1}, "encoding": {"color": {"field": "g", "type": "nominal", "scale": {"domain": ["T","C","D","S"], "range": ["#4DAEDF","#F07B7B","#FDB56A","#93D152"]}, "legend": null}, "shape": {"field": "g", "type": "nominal", "scale": {"domain": ["T","C","D","S"], "range": ["triangle-up","circle","diamond","square"]}, "legend": null}, "size": {"field": "g", "type": "nominal", "scale": {"domain": ["T","C","D","S"], "range": [350, 245, 270, 225]}, "legend": null}}}
    ]},
   {"width": 1136, "height": 932,
    "encoding": {"x": {"field": "x", "type": "quantitative", "scale": {"domain": [6.5, 9.5], "range": [172, 1089], "nice": false, "zero": false}, "axis": {"values": [6.5,7,7.5,8,8.5,9,9.5], "labelExpr": "datum.value % 1 === 0 ? '' + datum.value : ''", "offset": -138, "title": "TRG diversity", "titlePadding": 26}},
                 "y": {"field": "y", "type": "quantitative", "scale": {"domain": [-200, 600], "range": [794, 46], "nice": false, "zero": false}, "axis": {"values": [-200,0,200,400,600], "labelExpr": "'' + datum.value", "offset": -172, "title": "RF (IU/mL)"}}},
    "layer": [
     {"data": {"name": "lines"}, "transform": [{"filter": "datum.p === 'B3' && datum.s !== 'fit'"}], "mark": {"type": "line", "color": "#EE3535", "strokeWidth": 2.8, "strokeDash": [6, 5], "interpolate": "monotone"}, "encoding": {"detail": {"field": "s"}}},
     {"data": {"name": "lines"}, "transform": [{"filter": "datum.p === 'B3' && datum.s === 'fit'"}], "mark": {"type": "line", "color": "#E31E1E", "strokeWidth": 10}, "encoding": {}},
     {"data": {"name": "pts"}, "transform": [{"filter": "datum.p === 'B3'"}], "mark": {"type": "point", "filled": true, "opacity": 1}, "encoding": {"color": {"field": "g", "type": "nominal", "scale": {"domain": ["T","C","D","S"], "range": ["#4DAEDF","#F07B7B","#FDB56A","#93D152"]}, "legend": null}, "shape": {"field": "g", "type": "nominal", "scale": {"domain": ["T","C","D","S"], "range": ["triangle-up","circle","diamond","square"]}, "legend": null}, "size": {"field": "g", "type": "nominal", "scale": {"domain": ["T","C","D","S"], "range": [350, 245, 270, 225]}, "legend": null}}}
    ]}
  ]},
  {"spacing": 70, "hconcat": [
   {"width": 1153, "height": 921,
    "encoding": {"x": {"field": "x", "type": "quantitative", "scale": {"domain": [6.5, 9.5], "range": [144, 1110], "nice": false, "zero": false}, "axis": {"values": [6.5,7,7.5,8,8.5,9,9.5], "labelExpr": "datum.value % 1 === 0 ? '' + datum.value : ''", "offset": -140, "title": "TRG diversity", "titlePadding": 33.5}},
                 "y": {"field": "y", "type": "quantitative", "scale": {"domain": [-2, 8], "range": [781, 19], "nice": false, "zero": false}, "axis": {"values": [-2,0,2,4,6,8], "labelExpr": "'' + datum.value", "offset": -144, "title": "DAS28-ESR"}}},
    "layer": [
     {"data": {"name": "lines"}, "transform": [{"filter": "datum.p === 'B4' && datum.s !== 'fit'"}], "mark": {"type": "line", "color": "#EE3535", "strokeWidth": 2.8, "strokeDash": [6, 5], "interpolate": "monotone"}, "encoding": {"detail": {"field": "s"}}},
     {"data": {"name": "lines"}, "transform": [{"filter": "datum.p === 'B4' && datum.s === 'fit'"}], "mark": {"type": "line", "color": "#E31E1E", "strokeWidth": 10}, "encoding": {}},
     {"data": {"name": "pts"}, "transform": [{"filter": "datum.p === 'B4'"}], "mark": {"type": "point", "filled": true, "opacity": 1}, "encoding": {"color": {"field": "g", "type": "nominal", "scale": {"domain": ["T","C","D","S"], "range": ["#4DAEDF","#F07B7B","#FDB56A","#93D152"]}, "legend": null}, "shape": {"field": "g", "type": "nominal", "scale": {"domain": ["T","C","D","S"], "range": ["triangle-up","circle","diamond","square"]}, "legend": null}, "size": {"field": "g", "type": "nominal", "scale": {"domain": ["T","C","D","S"], "range": [350, 245, 270, 225]}, "legend": null}}}
    ]},
   {"width": 1168, "height": 921,
    "encoding": {"x": {"field": "x", "type": "quantitative", "scale": {"domain": [6.5, 9.5], "range": [130, 1131], "nice": false, "zero": false}, "axis": {"values": [6.5,7,7.5,8,8.5,9,9.5], "labelExpr": "datum.value % 1 === 0 ? '' + datum.value : ''", "offset": -144, "title": "TRG diversity", "titlePadding": 33.5}},
                 "y": {"field": "y", "type": "quantitative", "scale": {"domain": [0, 6], "range": [777, 23], "nice": false, "zero": false}, "axis": {"values": [0,2,4,6], "labelExpr": "'' + datum.value", "offset": -130, "title": "DAS28-CRP"}}},
    "layer": [
     {"data": {"name": "lines"}, "transform": [{"filter": "datum.p === 'B5' && datum.s !== 'fit'"}], "mark": {"type": "line", "color": "#EE3535", "strokeWidth": 2.8, "strokeDash": [6, 5], "interpolate": "monotone"}, "encoding": {"detail": {"field": "s"}}},
     {"data": {"name": "lines"}, "transform": [{"filter": "datum.p === 'B5' && datum.s === 'fit'"}], "mark": {"type": "line", "color": "#E31E1E", "strokeWidth": 10}, "encoding": {}},
     {"data": {"name": "pts"}, "transform": [{"filter": "datum.p === 'B5'"}], "mark": {"type": "point", "filled": true, "opacity": 1}, "encoding": {"color": {"field": "g", "type": "nominal", "scale": {"domain": ["T","C","D","S"], "range": ["#4DAEDF","#F07B7B","#FDB56A","#93D152"]}, "legend": null}, "shape": {"field": "g", "type": "nominal", "scale": {"domain": ["T","C","D","S"], "range": ["triangle-up","circle","diamond","square"]}, "legend": null}, "size": {"field": "g", "type": "nominal", "scale": {"domain": ["T","C","D","S"], "range": [350, 245, 270, 225]}, "legend": null}}}
    ]},
   {"width": 1136, "height": 921,
    "encoding": {"x": {"field": "x", "type": "quantitative", "scale": {"domain": [6.5, 9.5], "range": [185, 1078], "nice": false, "zero": false}, "axis": {"values": [6.5,7,7.5,8,8.5,9,9.5], "labelExpr": "datum.value % 1 === 0 ? '' + datum.value : ''", "offset": -138, "title": "TRG diversity", "titlePadding": 35.5}},
                 "y": {"field": "y", "type": "quantitative", "scale": {"domain": [-1000, 3000], "range": [783, 33], "nice": false, "zero": false}, "axis": {"values": [-1000,0,1000,2000,3000], "labelExpr": "'' + datum.value", "offset": -185, "title": "ACCP (CU)"}}},
    "layer": [
     {"data": {"name": "lines"}, "transform": [{"filter": "datum.p === 'B6' && datum.s !== 'fit'"}], "mark": {"type": "line", "color": "#EE3535", "strokeWidth": 2.8, "strokeDash": [6, 5], "interpolate": "monotone"}, "encoding": {"detail": {"field": "s"}}},
     {"data": {"name": "lines"}, "transform": [{"filter": "datum.p === 'B6' && datum.s === 'fit'"}], "mark": {"type": "line", "color": "#E31E1E", "strokeWidth": 10}, "encoding": {}},
     {"data": {"name": "pts"}, "transform": [{"filter": "datum.p === 'B6'"}], "mark": {"type": "point", "filled": true, "opacity": 1}, "encoding": {"color": {"field": "g", "type": "nominal", "scale": {"domain": ["T","C","D","S"], "range": ["#4DAEDF","#F07B7B","#FDB56A","#93D152"]}, "legend": null}, "shape": {"field": "g", "type": "nominal", "scale": {"domain": ["T","C","D","S"], "range": ["triangle-up","circle","diamond","square"]}, "legend": null}, "size": {"field": "g", "type": "nominal", "scale": {"domain": ["T","C","D","S"], "range": [350, 245, 270, 225]}, "legend": null}}}
    ]}
  ]}
 ]}
]
}
